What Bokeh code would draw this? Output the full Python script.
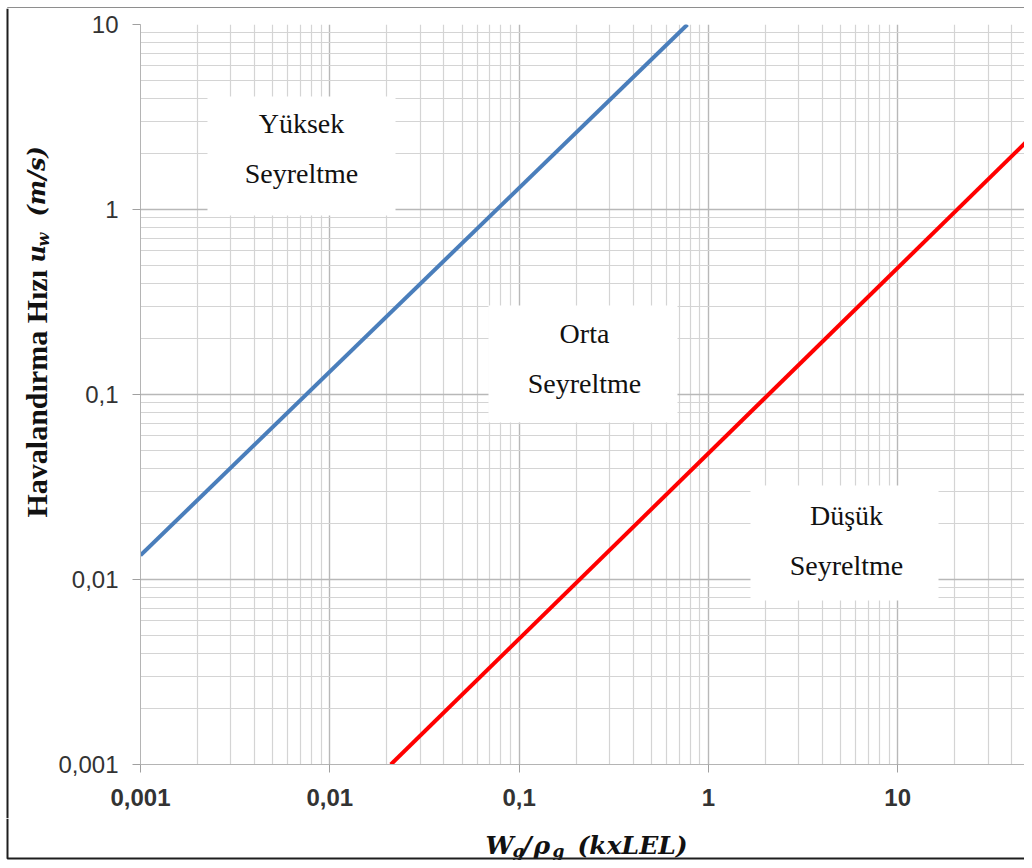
import math
from bokeh.plotting import figure
from bokeh.models import Range1d, FixedTicker
from bokeh.layouts import row, column
from bokeh.core.properties import value
from bokeh.embed import file_html
from bokeh.resources import INLINE

# ---- data ----
tick_values = [0.001, 0.01, 0.1, 1, 10]
x_tick_labels = ["0,001", "0,01", "0,1", "1", "10"]
y_tick_labels = ["0,001", "0,01", "0,1", "1", "10"]

high_dilution_x = [0.001, 0.775]
high_dilution_y = [0.0135, 10.0]
low_dilution_x = [0.021, 51.5]
low_dilution_y = [0.001, 2.5]

region_titles = ["Yüksek", "Orta", "Düşük"]
region_subtitle = "Seyreltme"

# ---- layout (page pixels) ----
W, H = 1024, 860
TOP_H = 8
BOTTOM_H = 42
MID_H = H - TOP_H - BOTTOM_H      # 810
LEFT_W = 52
FL, FT, FB = 140, 24, 764          # frame left / top / bottom in page px
PX_PER_DEC = 189.3
X0 = 0.001
X1 = 10 ** (math.log10(X0) + (W - FL) / PX_PER_DEC)
Y0, Y1 = 0.001, 10.0
FW, FH = W - FL, FB - FT
BORDER = "#1e1e1e"


def fx(px):
    lx0, lx1 = math.log10(X0), math.log10(X1)
    return 10 ** (lx0 + (px - FL) / FW * (lx1 - lx0))


def fy(py):
    ly0, ly1 = math.log10(Y0), math.log10(Y1)
    return 10 ** (ly1 - (py - FT) / FH * (ly1 - ly0))


def blank(w, h):
    f = figure(width=w, height=h, x_range=Range1d(0, w), y_range=Range1d(0, h),
               x_axis_type=None, y_axis_type=None, output_backend="svg",
               toolbar_location=None, min_border=0, title=None, margin=0)
    f.outline_line_color = None
    f.background_fill_color = "white"
    f.border_fill_color = "white"
    return f


# ---- main plot ----
p = figure(width=W - LEFT_W, height=MID_H, x_axis_type="log", y_axis_type="log",
           x_range=Range1d(X0, X1), y_range=Range1d(Y0, Y1),
           output_backend="svg", toolbar_location=None, title=None, margin=0,
           min_border_left=FL - LEFT_W, min_border_right=0,
           min_border_top=FT - TOP_H, min_border_bottom=MID_H - (FT - TOP_H) - FH)
p.outline_line_color = None
p.background_fill_color = "white"
p.border_fill_color = "white"

minor = [m * 10 ** e for e in range(-3, 2) for m in range(2, 10)]
for ax, labels, bold in ((p.xaxis[0], x_tick_labels, True), (p.yaxis[0], y_tick_labels, False)):
    ax.ticker = FixedTicker(ticks=tick_values, minor_ticks=minor)
    ax.major_label_overrides = dict(zip(tick_values, labels))
    ax.axis_line_color = "#b4b4b4"
    ax.major_tick_line_color = "#a0a0a0"
    ax.major_tick_in = 0
    ax.major_tick_out = 8
    ax.minor_tick_in = 0
    ax.minor_tick_out = 0
    ax.major_label_text_font = "Liberation Sans"
    ax.major_label_text_font_size = "24px"
    ax.major_label_text_color = "#333333"
    ax.major_label_text_font_style = "bold" if bold else "normal"
p.xaxis.major_label_standoff = 16
p.yaxis.major_label_standoff = 14

for g in (p.xgrid[0], p.ygrid[0]):
    g.grid_line_color = "#b8b8b8"
    g.grid_line_width = 1.4
    g.minor_grid_line_color = "#d4d4d4"
    g.minor_grid_line_width = 1.2

boxes = [(207, 395, 96, 215), (488, 677, 305, 422), (750, 938, 485, 600)]
p.quad(left=[fx(b[0]) for b in boxes], right=[fx(b[1]) for b in boxes],
       top=[fy(b[2]) for b in boxes], bottom=[fy(b[3]) for b in boxes],
       fill_color="white", line_color=None)

p.line(high_dilution_x, high_dilution_y, line_color="#4a7ebb", line_width=4)
p.line(low_dilution_x, low_dilution_y, line_color="#ff0000", line_width=4)

centers = [(301, 123, 173), (584, 333, 383), (846, 515, 565)]
tx, ty, tt = [], [], []
for title, (cx, y1, y2) in zip(region_titles, centers):
    tx += [fx(cx), fx(cx)]
    ty += [fy(y1), fy(y2)]
    tt += [title, region_subtitle]
p.text(x=tx, y=ty, text=tt, text_align="center", text_baseline="middle",
       text_font=value("Liberation Serif"), text_font_size=value("28px"),
       text_color="#111111")

# ---- top strip (border) ----
top = blank(W, TOP_H)
top.line(x=[7, 7, W], y=[0, 4, 4], line_color=BORDER, line_width=2)

# ---- left strip: y axis label ----
left = blank(LEFT_W, MID_H)
LEFT_BOTTOM = TOP_H + MID_H      # page y of the strip bottom


def ltext(text, px, py, font, style, size):
    left.text(x=[px], y=[LEFT_BOTTOM - py], text=[text], angle=math.pi / 2,
              text_align="left", text_baseline="middle", text_font=value(font),
              text_font_style=value(style), text_font_size=value(size),
              text_color="#111111")


ltext("Havalandırma Hızı", 36, 517, "Liberation Serif", "bold", "30px")
ltext("u", 36, 262, "DejaVu Serif", "bold italic", "24px")
ltext("w", 43, 246, "DejaVu Serif", "bold italic", "16px")
ltext("(m/s)", 36, 216, "DejaVu Serif", "bold italic", "24px")
left.line(x=[7, 7], y=[0, MID_H], line_color=BORDER, line_width=2)

# ---- bottom strip: x axis label ----
bottom = blank(W, BOTTOM_H)


def btext(text, px, py, size):
    bottom.text(x=[px], y=[H - py], text=[text], text_align="left",
                text_baseline="alphabetic", text_font=value("DejaVu Serif"),
                text_font_style=value("bold italic"), text_font_size=value(size),
                text_color="#111111")


btext("W", 485, 845, "25px")
btext("g", 512, 850, "17px")
btext("/", 522, 845, "25px")
btext("ρ", 533, 845, "25px")
btext("g", 552, 850, "17px")
btext("(kxLEL)", 577, 845, "25px")
bottom.line(x=[7, 7, W], y=[BOTTOM_H, 2, 2], line_color=BORDER, line_width=2)

layout = column(top, row(left, column(p, margin=0), spacing=0, margin=0), bottom,
                spacing=0, margin=0)
open("out.html", "w").write(file_html(layout, INLINE))
